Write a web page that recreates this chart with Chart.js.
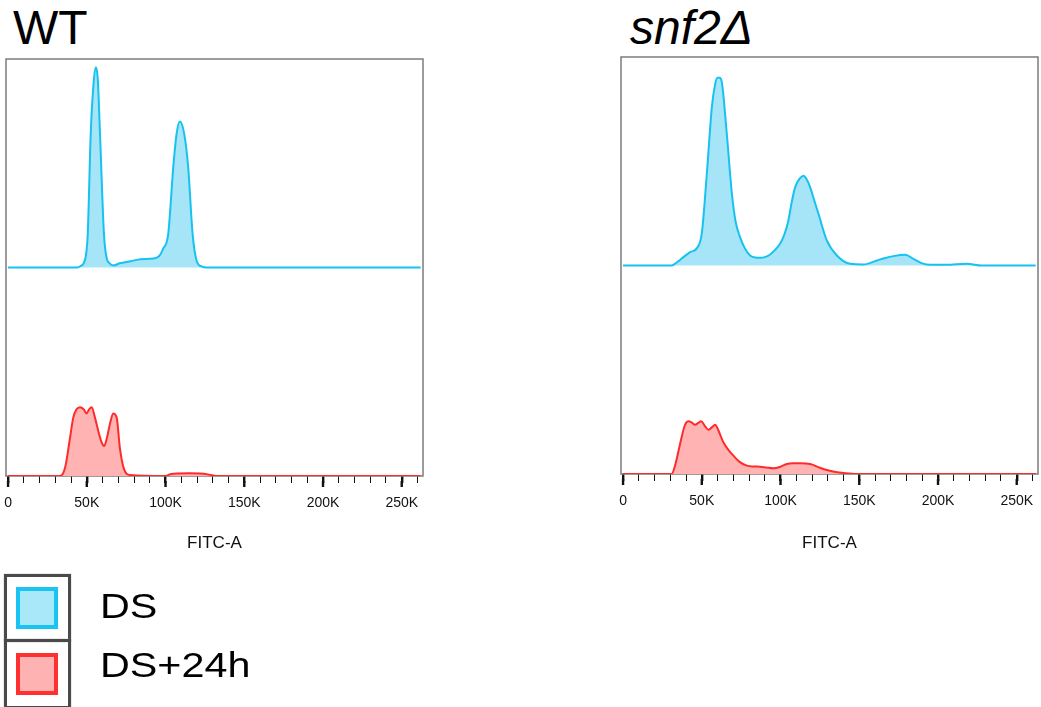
<!DOCTYPE html>
<html>
<head>
<meta charset="utf-8">
<script src="https://cdn.jsdelivr.net/npm/chart.js@4/dist/chart.umd.min.js"></script>
<style>
  body { margin: 0; background: #fff; width: 1041px; height: 707px; position: relative; overflow: hidden;
         font-family: "Liberation Sans", Arial, sans-serif; }
  canvas { position: absolute; }
  .title { position: absolute; font-size: 48px; line-height: 1; color: #000; white-space: nowrap; }
  .frame { position: absolute; box-sizing: border-box; border: 3px solid #4a4a4a; box-shadow: 0 0 1px #888; }
  .swatch { position: absolute; box-sizing: border-box; width: 42px; height: 42px; border: 4px solid; filter: blur(0.6px); }
  .label { position: absolute; font-size: 35px; line-height: 1; color: #000; transform: scaleX(1.18); transform-origin: left; white-space: nowrap; }
</style>
</head>
<body>
<div class="title" style="left:13px; top:4px;">WT</div>
<div class="title" style="left:630px; top:4px; font-style:italic;">snf2Δ</div>

<canvas id="wt" width="430" height="510" style="left:0; top:50px;"></canvas>
<canvas id="snf" width="431" height="510" style="left:610px; top:50px;"></canvas>

<div class="frame" style="left:4px; top:574px; width:67px; height:68px;"></div>
<div class="frame" style="left:4px; top:639px; width:67px; height:70px;"></div>
<div class="swatch" style="left:16px; top:587px; background:#a9e8f8; border-color:#1ac4f2;"></div>
<div class="swatch" style="left:16px; top:653px; background:#ffb2b2; border-color:#ff3030;"></div>
<div class="label" style="left:100px; top:588px;">DS</div>
<div class="label" style="left:100px; top:647px;">DS+24h</div>

<script>
// FITC-A in thousands; heights in % of half the panel
const tickLabels = [0, 50, 100, 150, 200, 250];
const minorTicks = [0, 10, 20, 30, 40, 50, 60, 70, 80, 90, 100, 110, 120, 130, 140, 150, 160, 170, 180, 190, 200, 210, 220, 230, 240, 250, 260];

const wtDsX = [0, 44, 46, 48, 49.5, 50.6, 52.5, 54.5, 55.8, 57, 58.4, 60.9, 62.5, 64.5, 67, 71, 78, 84, 92, 96, 98.5, 101.7, 104.9, 107, 109.1, 111.9, 114.4, 117.2, 119.7, 122.9, 126, 262];
const wtDsY = [0, 0, 0.7, 2, 6, 16, 64, 90, 96, 90, 64, 16, 5, 2, 1, 2, 3, 4, 4.3, 5.5, 9, 16, 48, 64, 70, 64, 48, 16, 3.4, 0.5, 0, 0];

const wtLateX = [0, 33, 36.2, 39.3, 41.4, 43.5, 45.7, 48, 49.9, 51.5, 53.1, 55.2, 57.3, 59.5, 61.1, 63, 64.7, 66.8, 69, 71, 73.6, 77.4, 100, 103, 108, 115, 122, 128, 132, 262];
const wtLateY = [0, 0, 3.9, 18, 28, 32, 33, 32, 30, 32, 33, 28, 21.6, 16, 14.4, 19, 25, 30, 28, 13.5, 3.4, 0.5, 0, 0.8, 1.2, 1.3, 1.2, 0.6, 0, 0];

const snfDsX = [0, 30.9, 35, 38.3, 42.6, 46.8, 50, 53.2, 56.4, 58.5, 59.9, 61.3, 62.7, 65.9, 69.1, 71.5, 74.3, 77.5, 80.7, 84, 87, 90, 93.4, 96.5, 99.7, 102.5, 105, 107, 109.3, 112, 114.6, 116.5, 118.8, 121.5, 124.1, 129.4, 135.8, 144.2, 152.7, 161.2, 166, 171.7, 179.2, 184.4, 190, 195, 205, 218.4, 227.9, 262];
const snfDsY = [0, 0, 2, 4, 6.4, 8.2, 15.4, 44, 76, 87, 90, 90, 88, 63, 34.5, 21, 13.6, 8, 4.8, 3.8, 3.7, 4, 5.3, 7.5, 10.4, 15, 21.6, 30, 37.6, 41.5, 43, 41.5, 37.6, 31, 24.8, 12, 4.8, 0.8, 0.5, 2.4, 3.5, 4.5, 5.1, 3.2, 1, 0.3, 0.3, 0.8, 0, 0];

const snfLateX = [0, 30.9, 33, 35.2, 37, 38.8, 40, 41.5, 43.5, 45.7, 47.8, 49.6, 52, 54.2, 56.5, 58.5, 60.5, 63.7, 67, 70.1, 74, 78.6, 83, 87, 91, 95.5, 100, 104, 108, 112.5, 118.8, 124, 129.4, 135, 140, 148.5, 262];
const snfLateY = [0, 0, 4, 11, 17, 22.4, 24.5, 25.3, 24.8, 23.6, 24.5, 25.3, 23, 21.2, 22.5, 23.6, 21, 15.2, 11.5, 8.8, 5.8, 4, 3.6, 3.5, 3.1, 2.7, 3.5, 4.8, 5.1, 5.1, 4.8, 3.3, 1.9, 1, 0.5, 0, 0];

const dsOffset = 100; // DS trace sits on the upper half of the panel

Chart.defaults.font.family = '"Liberation Sans", Arial, sans-serif';

const points = (xs, ys, off) => xs.map((x, i) => ({x: x, y: ys[i] + off}));

const panelBox = {
  id: 'panelBox',
  beforeDatasetsDraw(chart) {
    const {ctx, chartArea: a} = chart;
    ctx.save();
    ctx.strokeStyle = '#7c7c7c';
    ctx.lineWidth = 1.5;
    ctx.strokeRect(a.left, a.top, a.right - a.left, a.bottom - a.top);
    ctx.restore();
  },
  afterDraw(chart) {
    // labelled ticks are longer than the minor ones
    const {ctx, chartArea: a} = chart;
    const x = chart.scales.x;
    ctx.save();
    ctx.strokeStyle = '#111';
    ctx.lineWidth = 2.4;
    tickLabels.forEach(v => {
      const px = x.getPixelForValue(v);
      ctx.beginPath();
      ctx.moveTo(px, a.bottom + 5);
      ctx.lineTo(px, a.bottom + 11);
      ctx.stroke();
    });
    ctx.restore();
  }
};

function makePanel(id, dsX, dsY, lateX, lateY, pad, axisHeight) {
  new Chart(document.getElementById(id), {
    type: 'line',
    data: {
      datasets: [
        {
          label: 'DS',
          data: points(dsX, dsY, dsOffset),
          borderColor: '#17c2f0',
          backgroundColor: '#a6e5f7',
          fill: {value: dsOffset},
          borderWidth: 2,
          pointRadius: 0,
          tension: 0.4,
          cubicInterpolationMode: 'monotone',
        },
        {
          label: 'DS+24h',
          data: points(lateX, lateY, 0),
          borderColor: '#ff2b2b',
          backgroundColor: '#ffb3b3',
          fill: 'origin',
          borderWidth: 2,
          pointRadius: 0,
          tension: 0.4,
          cubicInterpolationMode: 'monotone',
        }
      ]
    },
    options: {
      responsive: false,
      animation: false,
      events: [],
      layout: {padding: pad, autoPadding: false},
      plugins: {legend: {display: false}, tooltip: {enabled: false}},
      scales: {
        x: {
          type: 'linear',
          min: -1.3,
          max: 263.5,
          afterBuildTicks: s => { s.ticks = minorTicks.map(v => ({value: v})); },
          afterFit: s => {
            s.height = axisHeight;
            s.paddingLeft = 0;
            s.paddingRight = 0;
          },
          border: {display: false},
          grid: {
            drawOnChartArea: false,
            tickLength: 7,
            color: '#111',
            lineWidth: c => (c.tick && c.tick.value % 50 === 0) ? 2.4 : 1,
          },
          ticks: {
            autoSkip: false,
            maxRotation: 0,
            padding: 12,
            color: '#111',
            font: {size: 14},
            callback: v => tickLabels.includes(v) ? (v === 0 ? '0' : v + 'K') : '',
          },
          title: {
            display: true,
            text: 'FITC-A',
            color: '#111',
            font: {size: 17},
            padding: {top: 0, bottom: 6},
          }
        },
        y: {display: false, min: 0, max: 200}
      }
    },
    plugins: [panelBox]
  });
}

makePanel('wt', wtDsX, wtDsY, wtLateX, wtLateY, {left: 6, top: 9, right: 7, bottom: 0}, 84);
makePanel('snf', snfDsX, snfDsY, snfLateX, snfLateY, {left: 11, top: 7, right: 3, bottom: 0}, 86);
</script>
</body>
</html>
